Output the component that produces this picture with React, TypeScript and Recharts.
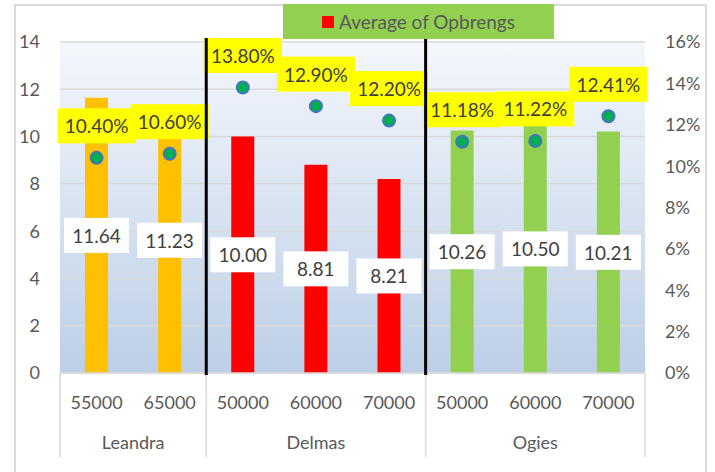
import React from 'react';
import {
  ComposedChart,
  Bar,
  Line,
  XAxis,
  YAxis,
  CartesianGrid,
  Cell,
  LabelList,
  Legend,
  ReferenceLine,
} from 'recharts';

const groups = ['Leandra', 'Leandra', 'Delmas', 'Delmas', 'Delmas', 'Ogies', 'Ogies', 'Ogies'];
const prices = ['55000', '65000', '50000', '60000', '70000', '50000', '60000', '70000'];
const revenue = [11.64, 11.23, 10.0, 8.81, 8.21, 10.26, 10.5, 10.21];
const yieldPct = [10.4, 10.6, 13.8, 12.9, 12.2, 11.18, 11.22, 12.41];
const leftTicks = [0, 2, 4, 6, 8, 10, 12, 14];
const rightTicks = [0, 2, 4, 6, 8, 10, 12, 14, 16];
const groupColors: Record<string, string> = {
  Leandra: '#ffc000',
  Delmas: '#ff0000',
  Ogies: '#92d050',
};
const dividers = ['Delmas|50000', 'Ogies|50000'];

const data = groups.map((g, i) => ({
  key: `${g}|${prices[i]}`,
  group: g,
  price: prices[i],
  revenue: revenue[i],
  pct: yieldPct[i],
}));

const FONT = 'Lato, "Open Sans", sans-serif';
const TEXT = '#404040';
const AXIS_TEXT = '#595959';

function CategoryTick(props: any) {
  const { x, y, index, payload, width, visibleTicksCount } = props;
  const half = payload?.offset ? payload.offset : width / visibleTicksCount / 2;
  const g = groups[index];
  const isFirst = index === 0 || groups[index - 1] !== g;
  const isLast = index === groups.length - 1;
  const count = groups.filter((v) => v === g).length;
  return (
    <g>
      <text x={x} y={y + 29} textAnchor="middle" dominantBaseline="central" fill={AXIS_TEXT} fontSize={18} fontFamily={FONT}>
        {prices[index]}
      </text>
      {isFirst && (
        <>
          <line x1={x - half} x2={x - half} y1={y} y2={y + 84} stroke="#d9d9d9" strokeWidth={1.5} />
          <text
            x={x + (count - 1) * half}
            y={y + 69}
            textAnchor="middle"
            dominantBaseline="central"
            fill={AXIS_TEXT}
            fontSize={18}
            fontFamily={FONT}
          >
            {g}
          </text>
        </>
      )}
      {isLast && <line x1={x + half} x2={x + half} y1={y} y2={y + 84} stroke="#d9d9d9" strokeWidth={1.5} />}
    </g>
  );
}

function BarValueLabel(props: any) {
  const { x, y, width, height, value } = props;
  const cx = x + width / 2;
  const cy = y + height / 2;
  return (
    <g>
      <rect x={cx - 32.5} y={cy - 17.5} width={65} height={35} fill="#ffffff" />
      <text x={cx} y={cy} textAnchor="middle" dominantBaseline="central" fill={TEXT} fontSize={19} fontFamily={FONT}>
        {Number(value).toFixed(2)}
      </text>
    </g>
  );
}

function PctLabel(props: any) {
  const { x, y, value } = props;
  const cy = y - 32;
  return (
    <g>
      <rect x={x - 39} y={cy - 17.5} width={78} height={35} fill="#ffff00" />
      <text x={x} y={cy} textAnchor="middle" dominantBaseline="central" fill={TEXT} fontSize={19} fontFamily={FONT}>
        {`${Number(value).toFixed(2)}%`}
      </text>
    </g>
  );
}

function LegendBox() {
  return (
    <div
      style={{
        width: 271,
        height: 35,
        background: '#92d050',
        display: 'flex',
        alignItems: 'center',
        justifyContent: 'center',
        fontFamily: FONT,
        fontSize: 19,
        color: AXIS_TEXT,
      }}
    >
      <span style={{ width: 12, height: 12, background: '#ff0000', marginRight: 5, display: 'inline-block' }} />
      Average of Opbrengs
    </div>
  );
}

function DividerLine(props: any) {
  const { x1, x2, y1, y2 } = props;
  return <line x1={x1} x2={x2} y1={Math.min(y1, y2) - 4} y2={Math.max(y1, y2) + 2} stroke="#000000" strokeWidth={3} />;
}

export default function App() {
  return (
    <div style={{ position: 'absolute', left: 0, top: 0, width: 715, height: 472, background: '#ffffff' }}>
      <div
        style={{
          position: 'absolute',
          left: 14,
          top: 4,
          width: 689,
          height: 480,
          border: '2px solid #d9d9d9',
          pointerEvents: 'none',
        }}
      />
      <ComposedChart width={715} height={472} data={data} margin={{ top: 42, right: 0, left: 0, bottom: 0 }}>
        <defs>
          <linearGradient id="plotBg" x1="0" y1="0" x2="0" y2="1">
            <stop offset="0%" stopColor="#f4f7fc" />
            <stop offset="100%" stopColor="#bccfe7" />
          </linearGradient>
        </defs>
        <CartesianGrid yAxisId="left" vertical={false} stroke="#d9d9d9" strokeWidth={1.5} fill="url(#plotBg)" fillOpacity={1} />
        <XAxis
          dataKey="key"
          height={99}
          interval={0}
          tickLine={false}
          tickSize={0}
          tickMargin={0}
          axisLine={{ stroke: '#d9d9d9', strokeWidth: 1.5 }}
          tick={<CategoryTick />}
        />
        <YAxis
          yAxisId="left"
          width={60}
          domain={[0, 14]}
          ticks={leftTicks}
          axisLine={false}
          tickLine={false}
          tickSize={0}
          tickMargin={20}
          tick={{ fill: AXIS_TEXT, fontSize: 18, fontFamily: FONT }}
        />
        <YAxis
          yAxisId="right"
          orientation="right"
          width={70}
          domain={[0, 16]}
          ticks={rightTicks}
          axisLine={false}
          tickLine={false}
          tickSize={0}
          tickMargin={20}
          tickFormatter={(v) => `${v}%`}
          tick={{ fill: AXIS_TEXT, fontSize: 18, fontFamily: FONT, textAnchor: 'start' }}
        />
        <Legend
          layout="vertical"
          align="center"
          verticalAlign="middle"
          wrapperStyle={{ left: 283, top: 4, width: 271, height: 35 }}
          content={() => <LegendBox />}
        />
        <Bar yAxisId="left" dataKey="revenue" barSize={23} isAnimationActive={false}>
          {data.map((d) => (
            <Cell key={d.key} fill={groupColors[d.group]} />
          ))}
          <LabelList dataKey="revenue" content={<BarValueLabel />} />
        </Bar>
        <Line
          yAxisId="right"
          dataKey="pct"
          stroke="none"
          strokeWidth={0}
          dot={{ r: 6, fill: '#00b050', stroke: '#4472c4', strokeWidth: 2, fillOpacity: 1 }}
          activeDot={false}
          isAnimationActive={false}
        >
          <LabelList dataKey="pct" content={<PctLabel />} />
        </Line>
        {dividers.map((k) => (
          <ReferenceLine key={k} yAxisId="left" x={k} position="start" stroke="#000000" strokeWidth={3} shape={<DividerLine />} zIndex={2500} />
        ))}
      </ComposedChart>
    </div>
  );
}
